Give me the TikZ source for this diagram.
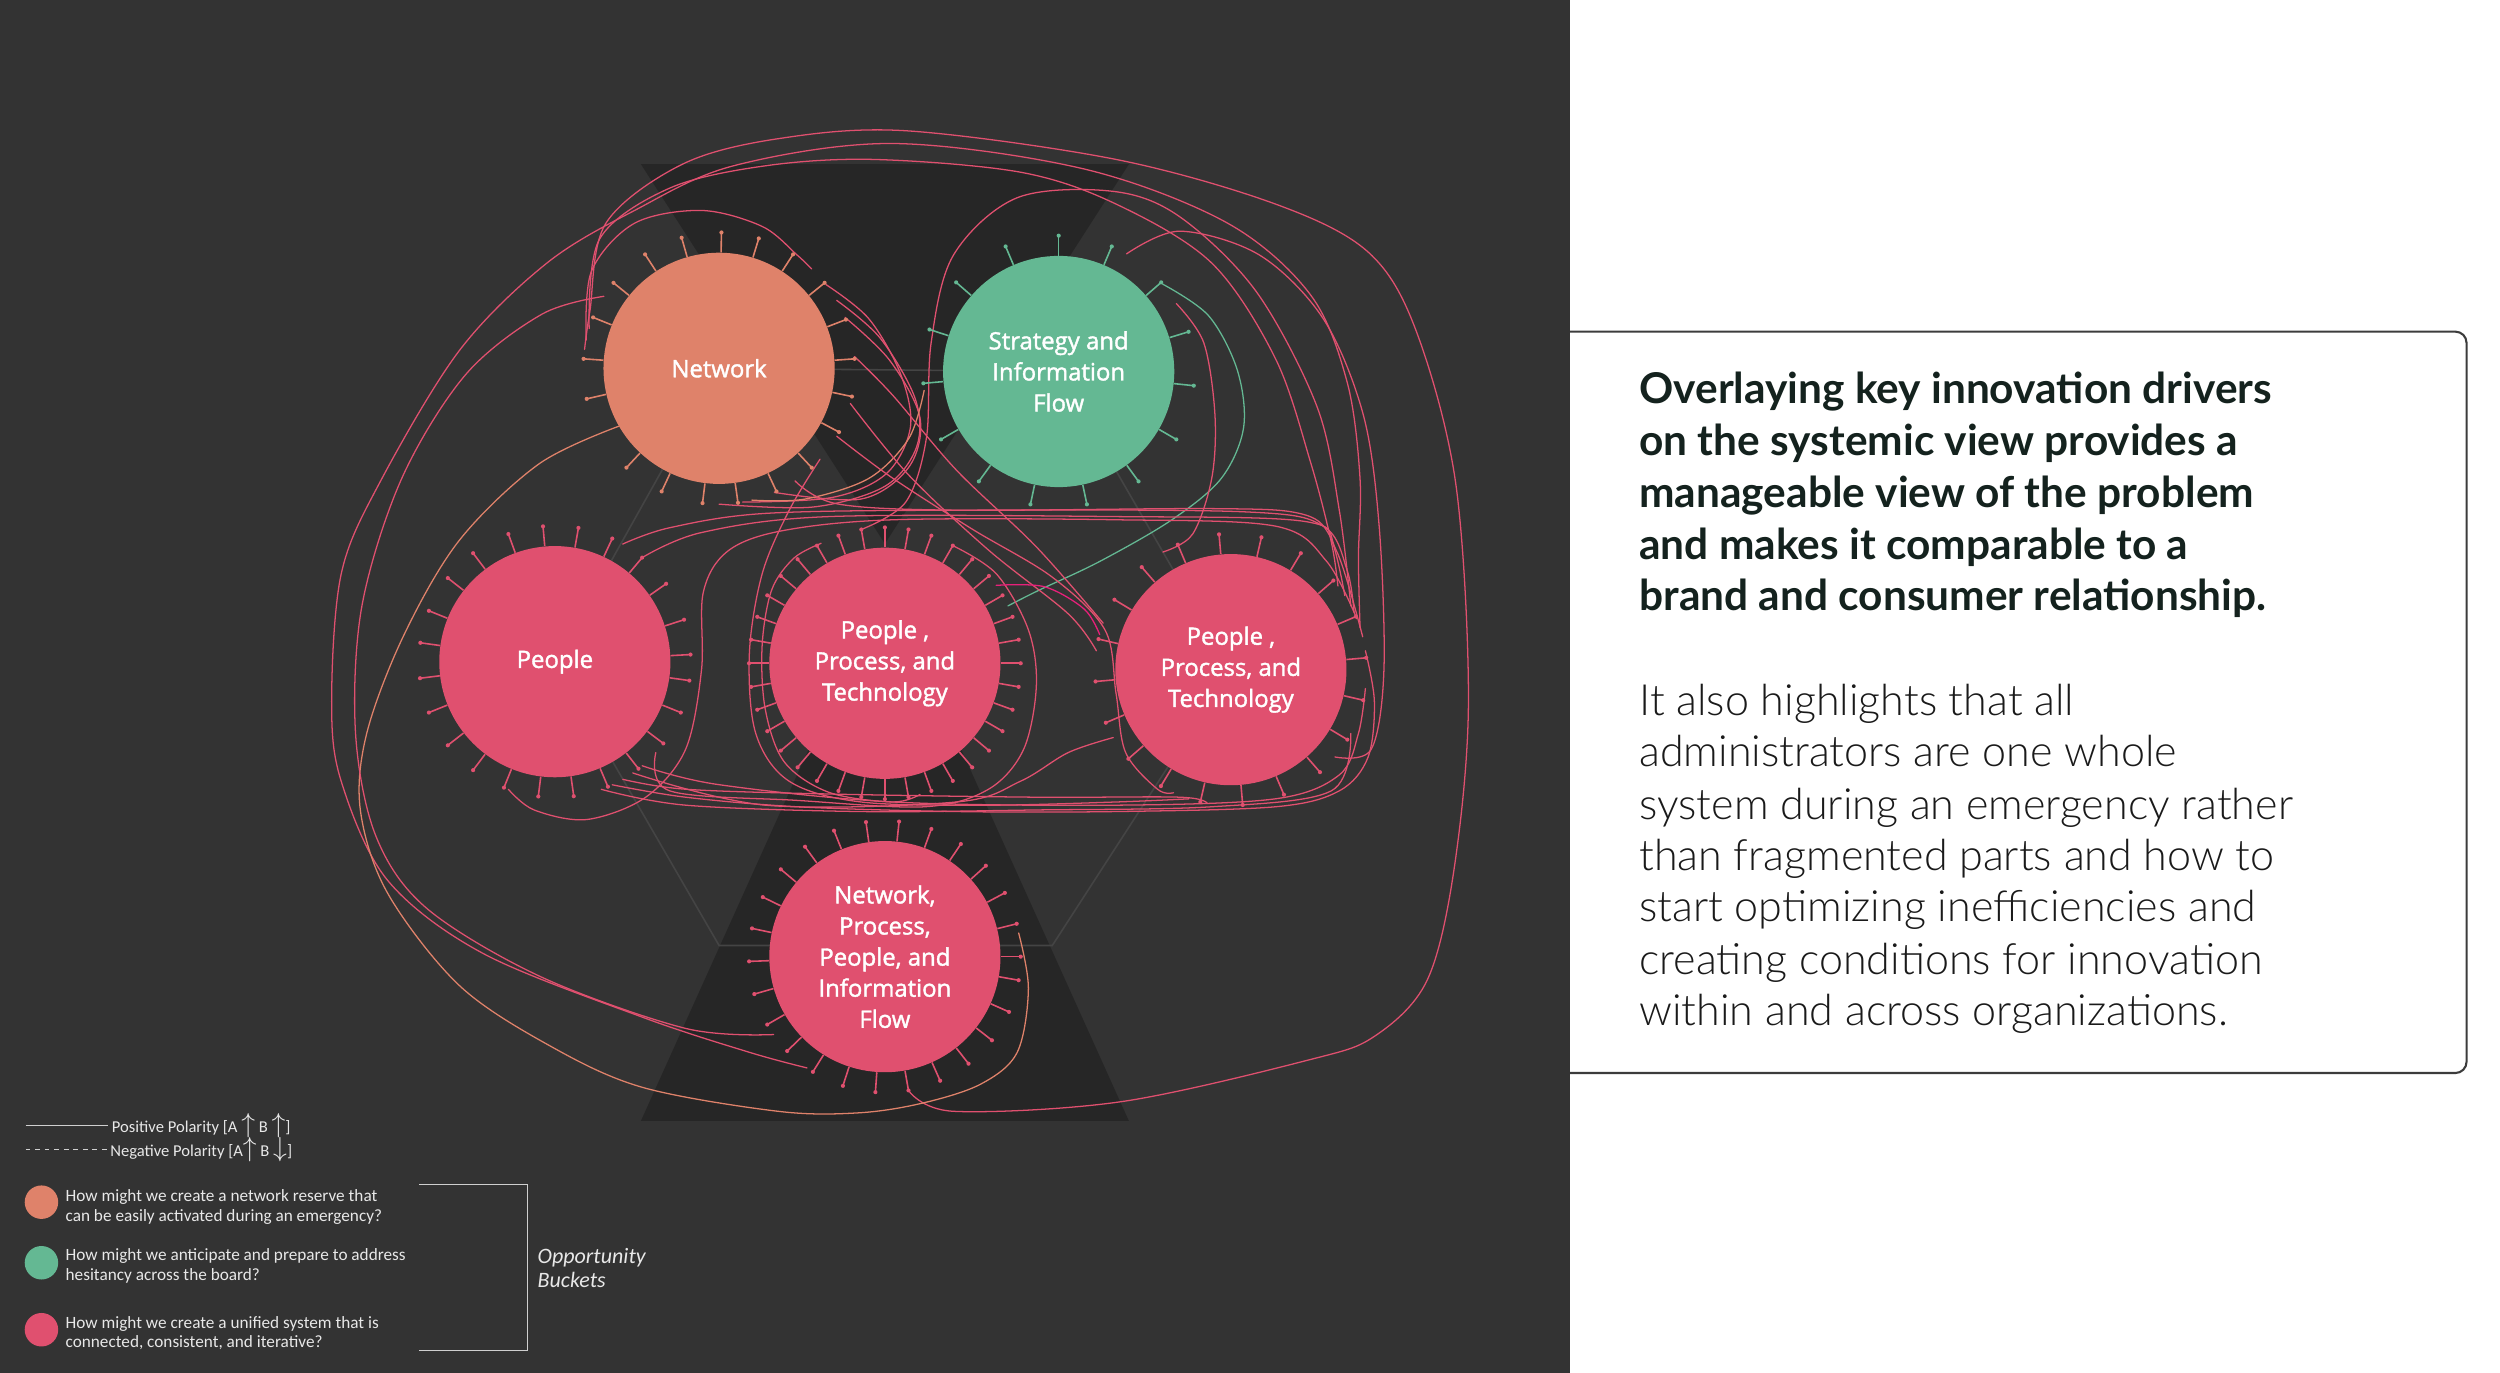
\documentclass[tikz,border=0pt]{standalone}
\usepackage{fontspec}
\setmainfont{Lato}
\IfFontExistsTF{Lato Light}{\newfontfamily\parfont{Lato Light}}{\newfontfamily\parfont{Lato}}
\newfontfamily\labfont{Open Sans}[FakeBold=1.6]
\newfontfamily\legfont{Carlito}
\usetikzlibrary{calc}
\definecolor{bgc}{HTML}{333333}
\definecolor{dkc}{HTML}{262626}
\definecolor{hexc}{HTML}{444444}
\definecolor{pinkc}{HTML}{E0506F}
\definecolor{orac}{HTML}{DF826A}
\definecolor{grnc}{HTML}{64B893}
\definecolor{magc}{HTML}{E8207A}
\definecolor{legc}{HTML}{E8E8E8}
\definecolor{brc}{HTML}{D0D0D0}
\definecolor{boxc}{HTML}{3C3C3C}
\definecolor{titc}{HTML}{14221E}
\definecolor{parc}{HTML}{1A1A1A}
\pgfdeclarelayer{back}
\pgfdeclarelayer{mid}
\pgfsetlayers{back,mid,main}
\begin{document}
\begin{tikzpicture}[x=1pt,y=-1pt,
  bub/.style={circle, inner sep=0pt, minimum size=145pt, text=white, align=center,
     font=\labfont\fontsize{15}{19.5}\selectfont},
  ring/.style={circle, inner sep=0pt, minimum size=170pt},
  ln/.style={line width=0.8pt, line join=round, line cap=round},
  pk/.style={ln, draw=pinkc},
  og/.style={ln, draw=orac},
  gn/.style={ln, draw=grnc},
  mg/.style={ln, draw=magc},
  spk/.style={line width=1pt},
  titl/.style={anchor=base west, inner sep=0pt, text=titc, font=\fontsize{26.6}{30}\selectfont\bfseries},
  para/.style={anchor=base west, inner sep=0pt, text=parc, font=\parfont\fontsize{27}{30}\selectfont},
  legt/.style={anchor=west, inner sep=0pt, text=legc, align=left, font=\legfont\fontsize{10.8}{12}\selectfont},
  legl/.style={draw=brc, line width=0.8pt},
  dot/.style={circle, inner sep=0pt, minimum size=21pt}
]
\useasboundingbox (0,0) rectangle (1568,861);

% ---------- circles (nodes) ----------
\node[bub, fill=orac] (net) at (451,231) {Network};
\node[bub, fill=grnc] (str) at (664,233) {Strategy and\\Information\\Flow};
\node[bub, fill=pinkc] (peo) at (348,415) {People};
\node[bub, fill=pinkc] (ppt) at (555,416) {People ,\\Process, and\\Technology};
\node[bub, fill=pinkc] (pp2) at (772,420) {People ,\\Process, and\\Technology};
\node[bub, fill=pinkc] (npp) at (555,600) {Network,\\Process,\\People, and\\Information\\Flow};
\node[ring] (netR) at (net) {};
\node[ring] (strR) at (str) {};
\node[ring] (peoR) at (peo) {};
\node[ring] (pptR) at (ppt) {};
\node[ring] (pp2R) at (pp2) {};
\node[ring] (nppR) at (npp) {};

% ---------- background ----------
\begin{pgfonlayer}{back}
\fill[white] (0,0) rectangle (1568,861);
\node[draw=boxc, line width=1.3pt, rounded corners=7pt, minimum width=577pt, minimum height=465pt, inner sep=0pt] (tbox) at (1258.5,440.5) {};
\fill[bgc] (0,0) rectangle (985,861);
\fill[dkc] (402,103) -- (708,103) -- (555,341) -- cycle;
\fill[dkc] (402,703) -- (708,703) -- (555,364) -- cycle;
\draw[hexc, line width=1pt] (net.center) -- (str.center) -- (pp2.center) -- (660,593) -- (451,593) -- (peo.center) -- cycle;
\end{pgfonlayer}

% ---------- connectors ----------
\begin{pgfonlayer}{mid}
\draw[pk] plot[smooth, tension=0.55] coordinates {(netR.172) (370,195) (380,140) (428,103) (488,87) (568,82) (700,100) (800,128) (858,158) (888,207) (913,303) (921,440) (912,545) (895,615) (862,650) (820,665) (703,691) (598,697) (nppR.-80)};
\draw[pk] plot[smooth, tension=0.55] coordinates {(nppR.-125) (470,660) (403,638) (303,598) (243,552) (214,490) (208,440) (214,360) (238,303) (288,220) (343,165) (398,132) (460,104) (560,90) (680,106) (770,140) (822,185) (845,240) (853,300) (852,350) (pp2R.18)};
\draw[og] plot[smooth, tension=0.55] coordinates {(net.-150) (338,291) (288,339) (253,399) (230,460) (226,508) (243,560) (288,618) (345,656) (403,682) (488,697) (538,698) (578,692) (615,680) (638,660) (645,620) (nppR.10)};
\draw[pk] plot[smooth, tension=0.55] coordinates {(netR.148) (340,197) (292,235) (252,300) (227,380) (223,460) (236,525) (268,570) (340,613) (430,645) (nppR.-145)};
\draw[pk] plot[smooth, tension=0.55] coordinates {(netR.163) (376,150) (420,118) (480,104) (548,100) (640,108) (700,128) (760,165) (800,225) (822,290) (835,340) (pp2R.38)};
\draw[pk] plot[smooth, tension=0.55] coordinates {(netR.168) (371,170) (398,140) (440,132) (478,142) (500,160) (netR.47)};
\draw[pk] plot[smooth, tension=0.55] coordinates {(pptR.100) (568,315) (581,275) (584,215) (598,160) (638,124) (698,120) (740,136) (788,183) (826,255) (840,320) (pp2R.28)};
\draw[gn] plot[smooth, tension=0.55] coordinates {(strR.40) (758,198) (776,232) (780,268) (766,300) (735,326) (690,352) (652,370) (pptR.25)};
\draw[pk] plot[smooth, tension=0.55] coordinates {(netR.38) (545,200) (565,235) (571,268) (556,297) (522,312) (netR.-80)};
\draw[pk] plot[smooth, tension=0.55] coordinates {(netR.22) (558,226) (577,262) (570,293) (540,313) (netR.-66)};
\draw[pk] plot[smooth, tension=0.55] coordinates {(netR.30) (552,212) (574,250) (575,280) (555,305) (510,318) (netR.-90)};
\draw[og] plot[smooth, tension=0.55] coordinates {(strR.-172) (570,275) (545,300) (505,313) (netR.-76)};
\draw[pk] plot[smooth, tension=0.55] coordinates {(netR.5) (560,248) (600,295) (650,343) (pp2R.160)};
\draw[pk] plot[smooth, tension=0.55] coordinates {(netR.-15) (570,298) (620,345) (670,385) (pp2R.172)};
\draw[pk] plot[smooth, tension=0.55] coordinates {(netR.-30) (560,300) (610,332) (660,362) (693,395) (700,435) (706,472) (726,495) (pp2R.-115)};
\draw[pk] plot[smooth, tension=0.55] coordinates {(peoR.60) (420,331) (480,322) (600,320) (780,321) (830,330) (845,358) (pp2R.25)};
\draw[pk] plot[smooth, tension=0.55] coordinates {(peoR.50) (440,334) (520,324) (700,324) (818,327) (838,345) (pp2R.14)};
\draw[pk] plot[smooth, tension=0.55] coordinates {(netR.-56) (525,316) (600,320) (760,319) (815,322) (834,336) (pp2R.33)};
\draw[pk] plot[smooth, tension=0.55] coordinates {(peoR.-110) (335,508) (368,514) (405,500) (430,470) (440,420) (441,372) (456,346) (490,333) (560,326) (700,326) (800,330) (832,352) (pp2R.22)};
\draw[pk] plot[smooth, tension=0.55] coordinates {(peoR.-60) (430,495) (520,498) (650,500) (740,500) (pp2R.-100)};
\draw[pk] plot[smooth, tension=0.55] coordinates {(peoR.-50) (450,492) (560,503) (700,505) (800,501) (840,486) (852,460) (pp2R.-8)};
\draw[pk] plot[smooth, tension=0.55] coordinates {(peoR.-70) (430,505) (540,509) (650,508) (760,506) (835,496) (pp2R.-28)};
\draw[pk] plot[smooth, tension=0.55] coordinates {(pp2R.-150) (670,472) (640,490) (600,503) (480,505) (peoR.-55)};
\draw[pk] plot[smooth, tension=0.55] coordinates {(pp2R.8) (862,440) (858,475) (840,496) (800,506) (700,509) (600,509) (500,506) (430,500) (peoR.-65)};
\draw[pk] plot[smooth, tension=0.55] coordinates {(netR.-42) (495,320) (478,360) (470,410) (474,460) (495,490) (540,503) (620,505) (700,503) (pp2R.-108)};
\draw[pk] plot[smooth, tension=0.55] coordinates {(pptR.60) (625,360) (645,395) (650,430) (642,470) (620,495) (580,506) (500,502) (420,496) (peoR.-42)};
\draw[pk] plot[smooth, tension=0.55] coordinates {(pptR.118) (498,350) (484,370) (478,405) (480,445) (492,478) (520,497) (560,503) (pptR.-75)};
\draw[pk] plot[smooth, tension=0.55] coordinates {(strR.30) (755,215) (762,260) (760,300) (748,335) (pp2R.120)};
\draw[mg] plot[smooth, tension=0.55] coordinates {(pptR.35) (655,368) (680,382) (pp2R.165)};
\draw[pk] plot[smooth, tension=0.55] coordinates {(strR.60) (740,145) (790,160) (830,200) (855,260) (865,330) (868,420) (860,470) (pp2R.-40)};
\end{pgfonlayer}

% ---------- spikes ----------
\foreach \a in {89,73,57,39,21,4,-12,-28,-47,-65,-82,-97,-115,-133,-167,176,158,141,123,106}
  {\draw[spk, orac] (net.\a) -- (netR.\a); \fill[orac] (netR.\a) circle (1.3pt);}
\foreach \a in {90,67,41,17,-6,-30,-54,-78,-102,-126,-150,-175,162,139,113}
  {\draw[spk, grnc] (str.\a) -- (strR.\a); \fill[grnc] (strR.\a) circle (1.3pt);}
\foreach \a in {3,18,35,50,65,80,95,110,127,142,158,172,187,202,218,233,248,263,278,293,308,323,338,352}
  {\draw[spk, pinkc] (peo.\a) -- (peoR.\a); \fill[pinkc] (peoR.\a) circle (1.3pt);}
\foreach \a in {0,10,...,350}
  {\draw[spk, pinkc] (ppt.\a) -- (pptR.\a); \fill[pinkc] (pptR.\a) circle (1.3pt);}
\foreach \a in {5,23,41,59,77,95,113,131,149,167,185,203,221,239,257,275,293,311,329,347}
  {\draw[spk, pinkc] (pp2.\a) -- (pp2R.\a); \fill[pinkc] (pp2R.\a) circle (1.3pt);}
\foreach \a in {0,14,...,350}
  {\draw[spk, pinkc] (npp.\a) -- (nppR.\a); \fill[pinkc] (nppR.\a) circle (1.3pt);}

% ---------- legend ----------
\coordinate (pa) at (16,706); \coordinate (pb) at (68,706);
\coordinate (na) at (16,721); \coordinate (nb) at (67,721);
\draw[legl] (pa) -- (pb);
\draw[legl, dashed] (na) -- (nb);
\node[legt, font=\legfont\fontsize{10.4}{11}\selectfont] (lpos) at (70,706) {Positive Polarity [A {\fontsize{16}{16}\selectfont$\uparrow$} B {\fontsize{16}{16}\selectfont$\uparrow$}]};
\node[legt, font=\legfont\fontsize{10.4}{11}\selectfont] (lneg) at (69,721) {Negative Polarity [A{\fontsize{16}{16}\selectfont$\uparrow$} B {\fontsize{16}{16}\selectfont$\downarrow$}]};
\node[dot, fill=orac] (d1) at (26,754) {};
\node[dot, fill=grnc] (d2) at (26,792) {};
\node[dot, fill=pinkc] (d3) at (26,834) {};
\node[legt] (l1) at (41,757) {How might we create a network reserve that\\can be easily activated during an emergency?};
\node[legt] (l2) at (41,794) {How might we anticipate and prepare to address\\hesitancy across the board?};
\node[legt] (l3) at (41,836) {How might we create a unified system that is\\connected, consistent, and iterative?};
\coordinate (b1) at (263,743); \coordinate (b2) at (331,743);
\coordinate (b3) at (331,847); \coordinate (b4) at (263,847);
\draw[legl] (b1) -- (b2) -- (b3) -- (b4);
\node[legt, font=\legfont\itshape\fontsize{13.8}{15}\selectfont] (opp) at (337,795.5) {Opportunity\\Buckets};

% ---------- right text ----------
\node[titl] (t1) at (1028,253) {Overlaying key innovation drivers};
\node[titl] (t2) at (1028,286) {on the systemic view provides a};
\node[titl] (t3) at (1028,318) {manageable view of the problem};
\node[titl] (t4) at (1028,351) {and makes it comparable to a};
\node[titl] (t5) at (1028,383) {brand and consumer relationship.};
\node[para] (p1) at (1028,449) {It also highlights that all};
\node[para] (p2) at (1028,481) {administrators are one whole};
\node[para] (p3) at (1028,514) {system during an emergency rather};
\node[para] (p4) at (1028,546) {than fragmented parts and how to};
\node[para] (p5) at (1028,578) {start optimizing inefficiencies and};
\node[para] (p6) at (1028,611) {creating conditions for innovation};
\node[para] (p7) at (1028,643) {within and across organizations.};
\end{tikzpicture}
\end{document}
